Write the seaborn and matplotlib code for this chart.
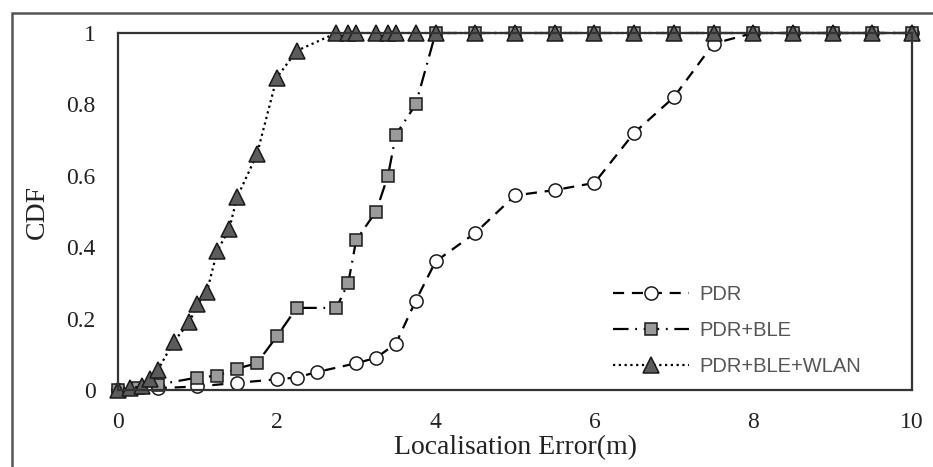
#!/usr/bin/env python3
import matplotlib as mpl
import matplotlib.patches as mpatches
import matplotlib.pyplot as plt
import numpy as np
import pandas as pd
import seaborn as sns

mpl.rcParams["pdf.fonttype"] = 42

# values
pdr_x = [0, 0.5, 1.0, 1.5, 2.0, 2.25, 2.5, 3.0, 3.25, 3.5, 3.75, 4.0, 4.5,
         5.0, 5.5, 6.0, 6.5, 7.0, 7.5, 8.0, 8.5, 9.0, 9.5, 10.0]
pdr_y = [0, 0.005, 0.01, 0.02, 0.03, 0.035, 0.05, 0.075, 0.09, 0.13, 0.25,
         0.36, 0.44, 0.545, 0.56, 0.58, 0.72, 0.82, 0.97, 1.0, 1.0, 1.0,
         1.0, 1.0]

ble_x = [0, 0.25, 0.5, 1.0, 1.25, 1.5, 1.75, 2.0, 2.25, 2.75, 2.9, 3.0,
         3.25, 3.4, 3.5, 3.75, 4.0, 4.5, 5.0, 5.5, 6.0, 6.5, 7.0, 7.5, 8.0,
         8.5, 9.0, 9.5, 10.0]
ble_y = [0, 0.005, 0.015, 0.035, 0.04, 0.06, 0.075, 0.15, 0.23, 0.23, 0.30,
         0.42, 0.50, 0.60, 0.715, 0.80, 1.0, 1.0, 1.0, 1.0, 1.0, 1.0, 1.0,
         1.0, 1.0, 1.0, 1.0, 1.0, 1.0]

wlan_x = [0, 0.15, 0.3, 0.4, 0.5, 0.7, 0.9, 1.0, 1.12, 1.25, 1.4, 1.5, 1.75,
          2.0, 2.25, 2.75, 2.9, 3.0, 3.25, 3.4, 3.5, 3.75, 4.0, 4.5, 5.0,
          5.5, 6.0, 6.5, 7.0, 7.5, 8.0, 8.5, 9.0, 9.5, 10.0]
wlan_y = [0, 0.005, 0.01, 0.03, 0.055, 0.135, 0.19, 0.24, 0.275, 0.39, 0.45,
          0.54, 0.66, 0.875, 0.95, 1.0, 1.0, 1.0, 1.0, 1.0, 1.0, 1.0, 1.0,
          1.0, 1.0, 1.0, 1.0, 1.0, 1.0, 1.0, 1.0, 1.0, 1.0, 1.0, 1.0]

series_names = ["PDR", "PDR+BLE", "PDR+BLE+WLAN"]
x_ticks = [0, 2, 4, 6, 8, 10]
y_ticks = [0, 0.2, 0.4, 0.6, 0.8, 1]
y_tick_labels = ["0", "0.2", "0.4", "0.6", "0.8", "1"]

SERIF = ["Liberation Serif", "DejaVu Serif"]
SANS = ["Liberation Sans", "DejaVu Sans"]

STYLES = {
    "PDR": dict(marker="o", markerfacecolor="white", markersize=9.5,
                linestyle=(0, (5, 3.5))),
    "PDR+BLE": dict(marker="s", markerfacecolor="#9a9a9a", markersize=9,
                    linestyle=(0, (7, 3, 0.8, 3))),
    "PDR+BLE+WLAN": dict(marker="^", markerfacecolor="#5c5c5c",
                         markersize=11, linestyle=(0, (1, 1.6))),
}


def build_frame() -> pd.DataFrame:
    parts = []
    for name, xs, ys in zip(series_names, [pdr_x, ble_x, wlan_x],
                            [pdr_y, ble_y, wlan_y]):
        parts.append(pd.DataFrame({"error": xs, "cdf": ys, "method": name}))
    return pd.concat(parts, ignore_index=True)


def start() -> None:
    sns.set_style("white")
    plt.rcParams["font.family"] = SERIF

    df = build_frame()
    fig = plt.figure(figsize=(9.33, 4.67), dpi=100)
    ax = fig.add_axes([118 / 933, 1 - 390 / 467, 794 / 933, 357 / 467])

    for name in series_names:
        sns.lineplot(
            data=df[df.method == name],
            x="error",
            y="cdf",
            ax=ax,
            sort=False,
            estimator=None,
            color="black",
            linewidth=1.6,
            markeredgecolor="#1a1a1a",
            markeredgewidth=1.1,
            clip_on=False,
            label=name,
            **STYLES[name],
        )

    ax.set_xlim(0, 10)
    ax.set_ylim(0, 1)
    ax.set_xticks(x_ticks)
    ax.set_yticks(y_ticks)
    ax.set_yticklabels(y_tick_labels)
    ax.tick_params(length=0, labelsize=17, colors="#222222")
    ax.tick_params(axis="y", pad=16)
    ax.tick_params(axis="x", pad=16)
    for sp in ax.spines.values():
        sp.set_color("#333333")
        sp.set_linewidth(1.6)
    ax.set_xlabel("Localisation Error(m)", fontsize=20, labelpad=1,
                  color="#222222")
    ax.set_ylabel("CDF", fontsize=20, labelpad=12, color="#222222")

    ax.legend(
        loc="upper left",
        bbox_to_anchor=(0.6, 0.345),
        frameon=False,
        handlelength=3.8,
        handletextpad=0.5,
        labelspacing=0.85,
        prop={"family": SANS, "size": 14.5},
        labelcolor="#555555",
    )

    # outer frame of the original figure
    fig.patches.append(
        mpatches.Rectangle(
            (12 / 933, -0.5), 2.0, 0.5 + (467 - 13) / 467,
            transform=fig.transFigure, fill=False, edgecolor="#555555",
            linewidth=1.8,
        )
    )

    fig.savefig("out.png", dpi=100)


if __name__ == "__main__":
    start()
